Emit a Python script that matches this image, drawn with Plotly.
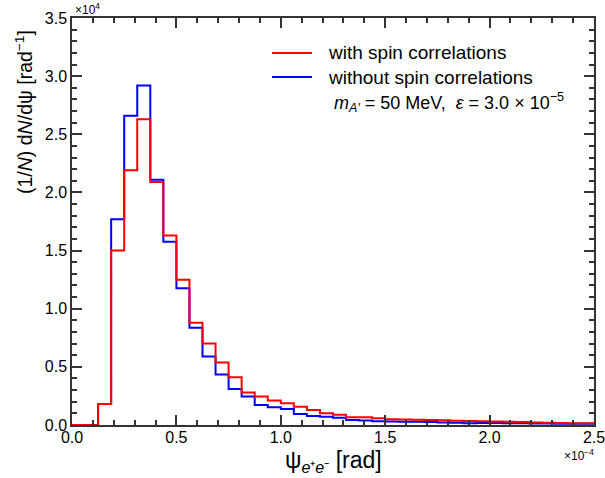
import numpy as np
import plotly.graph_objects as go

# bin edges in units of 1e-4 rad (40 bins of width 0.0625)
bin_edges_e4 = [i * 0.0625 for i in range(41)]

# (1/N) dN/dpsi in units of 1e4 rad^-1
with_spin = [0.0, 0.0, 0.18, 1.50, 2.19, 2.63, 2.09, 1.63, 1.25, 0.88,
             0.70, 0.537, 0.41, 0.28, 0.245, 0.21, 0.187, 0.158, 0.13, 0.10,
             0.089, 0.066, 0.066, 0.058, 0.05, 0.048, 0.045, 0.042, 0.04, 0.037,
             0.035, 0.032, 0.03, 0.027, 0.025, 0.022, 0.02, 0.018, 0.016, 0.015]
without_spin = [0.0, 0.0, 0.18, 1.77, 2.66, 2.92, 2.11, 1.575, 1.175, 0.836,
                0.59, 0.435, 0.31, 0.245, 0.172, 0.152, 0.138, 0.095, 0.078, 0.072,
                0.063, 0.043, 0.038, 0.032, 0.03, 0.028, 0.027, 0.025, 0.022, 0.02,
                0.015, 0.018, 0.017, 0.016, 0.015, 0.013, 0.012, 0.011, 0.01, 0.01]

series_names = ["with spin correlations", "without spin correlations"]
series_colors = ["#ff0000", "#0000ff"]

x_ticks = [0.0, 0.5, 1.0, 1.5, 2.0, 2.5]
x_tick_labels = ["0.0", "0.5", "1.0", "1.5", "2.0", "2.5"]
y_ticks = [0.0, 0.5, 1.0, 1.5, 2.0, 2.5, 3.0, 3.5]
y_tick_labels = ["0.0", "0.5", "1.0", "1.5", "2.0", "2.5", "3.0", "3.5"]

edges = np.array(bin_edges_e4) / 1e4
FONT = "Liberation Sans, Arial, sans-serif"

L, R, T, B = 72, 11, 18, 53
W, H = 605, 478
PW, PH = W - L - R, H - T - B


def px_x(px):
    return (px - L) / PW


def px_y(py):
    return (H - B - py) / PH


def step(vals):
    v = np.array(vals) * 1e4
    return edges, np.append(v, v[-1])


fig = go.Figure()
# blue drawn first so red lies on top
for vals, name, color in [(without_spin, series_names[1], series_colors[1]),
                          (with_spin, series_names[0], series_colors[0])]:
    xs, ys = step(vals)
    fig.add_trace(go.Scatter(x=xs, y=ys, mode="lines", line=dict(color=color, width=2, shape="hv"),
                             name=name, showlegend=False))

axis_common = dict(showline=True, linecolor="#333333", linewidth=1.5, mirror="allticks",
                   ticks="inside", ticklen=10, tickwidth=1.5, tickcolor="#333333",
                   showgrid=False, zeroline=False, automargin=False, ticklabeloverflow="allow",
                   tickfont=dict(family=FONT, size=16, color="black"))

fig.update_xaxes(range=[0, 2.5e-4], tickvals=[t / 1e4 for t in x_ticks], ticktext=x_tick_labels,
                 minor=dict(dtick=0.1e-4, ticks="inside", ticklen=5, tickwidth=1.5, tickcolor="#333333"),
                 ticklabelstandoff=-3,
                 **axis_common)
fig.update_yaxes(range=[0, 3.5e4], tickvals=[t * 1e4 for t in y_ticks], ticktext=y_tick_labels,
                 minor=dict(dtick=0.1e4, ticks="inside", ticklen=5, tickwidth=1.5, tickcolor="#333333"),
                 **axis_common)

# legend (drawn by hand for exact spacing)
shapes = []
annotations = []
for i, (name, color) in enumerate(zip(series_names, series_colors)):
    yc = px_y(53 + 24 * i)
    shapes.append(dict(type="line", xref="paper", yref="paper", x0=px_x(272), x1=px_x(312),
                       y0=yc, y1=yc, line=dict(color=color, width=2)))
    annotations.append(dict(text=name, xref="paper", yref="paper", x=px_x(326), y=yc,
                            xanchor="left", yanchor="middle", showarrow=False,
                            font=dict(family=FONT, size=19)))

annotations += [
    dict(text="×10<sup>4</sup>", xref="paper", yref="paper", x=px_x(73), y=px_y(9), xanchor="left",
         yanchor="middle", showarrow=False, font=dict(family=FONT, size=12)),
    dict(text="×10<sup>−4</sup>", xref="paper", yref="paper", x=px_x(596), y=px_y(455), xanchor="right",
         yanchor="middle", showarrow=False, font=dict(family=FONT, size=12)),
    dict(text="<i>m</i><sub><i>A′</i></sub> = 50 MeV,  <i>ε</i> = 3.0 × 10<sup>−5</sup>",
         xref="paper", yref="paper", x=px_x(332), y=px_y(102), xanchor="left",
         yanchor="middle", showarrow=False, font=dict(family=FONT, size=18)),
    dict(text="ψ<sub><i>e</i>⁺<i>e</i>⁻</sub> [rad]", xref="paper", yref="paper",
         x=px_x(333), y=px_y(462), xanchor="center", yanchor="middle", showarrow=False,
         font=dict(family=FONT, size=23)),
    dict(text="(1/<i>N</i>) d<i>N</i>/dψ [rad<sup>−1</sup>]", xref="paper", yref="paper",
         x=px_x(24), y=px_y(112), xanchor="center", yanchor="middle", textangle=-90,
         showarrow=False, font=dict(family=FONT, size=19.5)),
]

fig.update_layout(
    width=W, height=H,
    margin=dict(l=L, r=R, t=T, b=B),
    paper_bgcolor="white", plot_bgcolor="white",
    font=dict(family=FONT, color="black"),
    showlegend=False,
    shapes=shapes,
    annotations=annotations,
)

fig.write_html("out.html", config={"displayModeBar": False},
               post_script="document.body.style.margin='0';document.body.style.overflow='hidden';")
